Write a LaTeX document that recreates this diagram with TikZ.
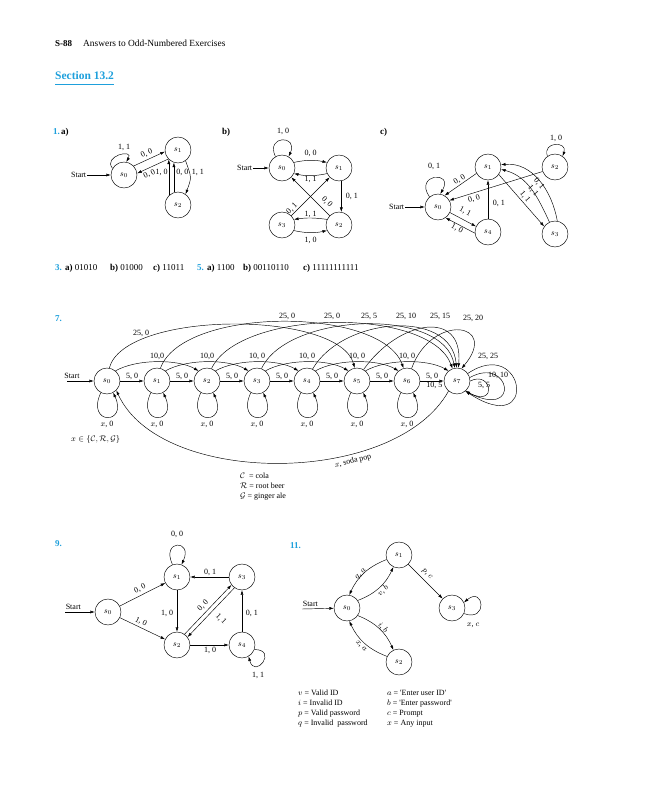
\documentclass[tikz,border=0pt]{standalone}
\usepackage{fontspec}
\setmainfont{Liberation Serif}
\usetikzlibrary{arrows.meta,calc}
\definecolor{cy}{RGB}{30,160,220}
\begin{document}
\begin{tikzpicture}[x=1pt,y=1pt,
  st/.style={circle,draw,line width=0.45pt,minimum size=26pt,inner sep=0pt,font=\fontsize{8.5}{9}\selectfont},
  lb/.style={font=\fontsize{8}{9}\selectfont,inner sep=0.6pt},
  ar/.style={line width=0.45pt,-{Latex[length=4.5pt,width=3pt]}},
  exn/.style={font=\fontsize{9}{10}\selectfont\bfseries,text=cy,anchor=base west,inner sep=0pt},
  exl/.style={font=\fontsize{9}{10}\selectfont\bfseries,anchor=base west,inner sep=0pt},
  txt/.style={font=\fontsize{9}{10}\selectfont,anchor=base west,inner sep=0pt},
  leg/.style={font=\fontsize{8}{9}\selectfont,anchor=base west,inner sep=0pt},
]
\useasboundingbox (0,0) rectangle (648,-800);
\fill[white] (0,0) rectangle (648,-800);

% ---------- header
\node[exl] (h1) at (55,-47) {S-88};
\node[txt,font=\fontsize{9.4}{10}\selectfont] (h2) at (83,-47) {Answers to Odd-Numbered Exercises};
\node[exn,font=\fontsize{11.5}{12}\selectfont\bfseries] (sec) at (55,-80) {Section 13.2};
\draw[cy,line width=0.9pt] ($(sec.base west)+(0,-4)$) -- ($(sec.base east)+(0,-4)$);

% ---------- 1 a)
\node[exn] (e1) at (53,-134) {1.};
\node[exl] (e1a) at (61,-134) {a)};
\node[st] (a0) at (124,-175) {$s_0$};
\node[st] (a1) at (178,-150) {$s_1$};
\node[st] (a2) at (178,-205) {$s_2$};
\node[lb,anchor=east] (as) at (87,-175) {Start};
\draw[ar] (as) -- (a0);
\draw[ar] (a0.150) to[out=130,in=60,distance=16pt] (a0.80);
\node[lb] (la1) at (124,-147) {1, 1};
\draw[ar] (a0.43) -- (a1.187);
\draw[ar] (a1.223) -- (a0.7);
\node[lb,rotate=25] (la2) at (146.8,-153.4) {0, 0};
\node[lb,rotate=25] (la3) at (149.5,-174) {0, 0};
\draw[ar] (a2.134) -- (a1.226);
\draw[ar] (a2.108) -- (a1.252);
\draw[ar] (a1.-55) to[out=-70,in=70,distance=18pt] (a2.55);
\node[lb,anchor=east] (la4) at (168.5,-172) {1, 0};
\node[lb,anchor=west] (la5) at (175.5,-172) {0, 0};
\node[lb,anchor=west] (la6) at (191,-172) {1, 1};

% ---------- 1 b)
\node[exl] (e1b) at (222,-134) {b)};
\node[st] (b0) at (282,-168) {$s_0$};
\node[st] (b1) at (339,-168) {$s_1$};
\node[st] (b2) at (339,-225) {$s_2$};
\node[st] (b3) at (282,-225) {$s_3$};
\node[lb,anchor=east] (bs) at (253,-168) {Start};
\draw[ar] (bs) -- (b0);
\draw[ar] (b0.120) to[out=115,in=65,distance=24pt] (b0.60);
\node[lb] (lb1) at (283,-131) {1, 0};
\draw[ar] (b0.25) to[bend left=12] (b1.155);
\node[lb] (lb2) at (310.5,-153) {0, 0};
\draw[ar] (b1.205) to[bend left=12] (b0.-25);
\node[lb] (lb3) at (310.5,-179.5) {1, 1};
\draw[ar] (b1.-80) -- (b2.80);
\node[lb,anchor=west] (lb4) at (345,-196) {0, 1};
\draw[ar] (b2.155) to[bend right=8] (b3.25);
\node[lb] (lb5) at (310.5,-214.5) {1, 1};
\draw[ar] (b3.-25) to[bend right=12] (b2.205);
\node[lb] (lb6) at (310.5,-240.5) {1, 0};
\draw[ar] (b3.45) -- (b1.225);
\node[lb,rotate=45] (lb7) at (292,-208.5) {0, 1};
\draw[ar] (b2.135) -- (b0.-45);
\node[lb,rotate=-45] (lb8) at (327,-202) {0, 0};

% ---------- 1 c)
\node[exl] (e1c) at (380,-134) {c)};
\node[st] (c0) at (438,-207) {$s_0$};
\node[st] (c1) at (488,-167) {$s_1$};
\node[st] (c2) at (555,-167) {$s_2$};
\node[st] (c3) at (555,-234) {$s_3$};
\node[st] (c4) at (488,-232) {$s_4$};
\node[lb,anchor=east] (cs) at (405,-207) {Start};
\draw[ar] (cs) -- (c0);
\draw[ar] (c0.130) to[out=125,in=60,distance=28pt] (c0.80);
\node[lb] (lc1) at (434,-166) {0, 1};
\draw[ar] (c2.125) to[out=110,in=70,distance=16pt] (c2.55);
\node[lb] (lc2) at (556,-138) {1, 0};
\draw[ar] (c1.209) -- (c0.60);
\node[lb,rotate=31] (lc3) at (459.5,-179.5) {0, 0};
\draw[ar] (c2.200) -- (c0.30);
\node[lb,rotate=17] (lc4) at (474,-199) {0, 0};
\draw[ar] (c0.-25) -- (c4.155);
\node[lb,rotate=-28] (lc5) at (465,-212) {1, 1};
\draw[ar] (c4.185) -- (c0.-55);
\node[lb,rotate=-28] (lc6) at (457,-229) {1, 0};
\draw[ar] (c4) -- (c1);
\node[lb,anchor=west] (lc7) at (492,-203) {0, 1};
\draw[ar] (c1.-35) -- (c3.145);
\draw[ar] (c3.115) to[out=115,in=-15] (c1.-10);
\draw[ar] (c3.80) to[out=100,in=5] (c1.10);
\node[lb,rotate=-50] (lc8) at (539,-184) {0, 1};
\node[lb,rotate=-50] (lc9) at (533,-190.5) {1, 1};
\node[lb,rotate=-50] (lc10) at (525,-197) {1, 1};

% ---------- 3, 5
\node[exn] (e3) at (55,-270) {3.};
\node[txt] (e3a) at (65,-270) {\textbf{a)} 01010};
\node[txt] (e3b) at (110,-270) {\textbf{b)} 01000};
\node[txt] (e3c) at (153,-270) {\textbf{c)} 11011};
\node[exn] (e5) at (197,-270) {5.};
\node[txt] (e5a) at (207,-270) {\textbf{a)} 1100};
\node[txt] (e5b) at (243,-270) {\textbf{b)} 00110110};
\node[txt] (e5c) at (303,-270) {\textbf{c)} 11111111111};

% ---------- 7
\node[exn] (e7) at (55,-321) {7.};
\foreach \i in {0,...,7} { \node[st] (g\i) at (107+50*\i,-381) {$s_{\i}$}; }
\node[lb,anchor=base] (gs) at (72,-378.5) {Start};
\coordinate (gsa) at (67,-381);
\draw[ar] (gsa) -- (g0);
\foreach \i/\j in {0/1,1/2,2/3,3/4,4/5,5/6} {
  \draw[ar] (g\i) -- node[lb,above] (f\i) {5, 0} (g\j);
}
\draw[ar] (g6) -- node[lb,above] (f6) {5, 0} node[lb,below,pos=0.6] (f7) {10, 5} (g7);
\foreach \i/\j/\t in {0/2/{10,0},1/3/{10,0},2/4/{10, 0},3/5/{10, 0},4/6/{10, 0},5/7/{10, 0}} {
  \draw[ar] (g\i.50) to[out=30,in=150,distance=24pt] (g\j.130);
  \node[lb] (ten\i) at (157+50*\i,-356) {\t};
}
\foreach \i in {0,...,6} {
  \draw[ar] (g\i.-118) to[out=-115,in=-65,distance=36pt] (g\i.-62);
  \node[lb] (xo\i) at (107+50*\i,-424) {$x$, 0};
}
\draw[ar] (g0.80) to[out=75,in=105,distance=60pt] (g5.100);
\draw[ar] (g1.75) to[out=70,in=110,distance=66pt] (g6.105);
\draw[ar] (g2.70) to[out=65,in=110,distance=66pt] (g7.110);
\draw[ar] (g3.70) to[out=65,in=100,distance=62pt] (g7.100);
\draw[ar] (g4.65) to[out=60,in=95,distance=60pt] (g7.92);
\draw[ar] (g5.60) to[out=55,in=85,distance=60pt] (g7.84);
\draw[ar] (g6.70) to[out=70,in=50,distance=60pt] (g7.70);
\node[lb] (q0) at (141,-333) {25, 0};
\node[lb] (q1) at (287,-316) {25, 0};
\node[lb] (q2) at (332,-316) {25, 0};
\node[lb] (q3) at (369,-316) {25, 5};
\node[lb] (q4) at (406,-316) {25, 10};
\node[lb] (q5) at (440,-316) {25, 15};
\node[lb] (q6) at (473,-318) {25, 20};
% s7 loops
\draw[ar] (g7.35) .. controls (525,-335) and (540,-440) .. (g7.-50);
\draw[ar] (g7.15) .. controls (510,-355) and (522,-420) .. (g7.-50);
\draw[ar] (g7.0) .. controls (492,-370) and (498,-408) .. (g7.-50);
\node[lb] (r1) at (488,-356) {25, 25};
\node[lb] (r2) at (498,-375.5) {10, 10};
\node[lb] (r3) at (484,-385.5) {5, 5};
% soda pop
\draw[ar] (g7.-130) .. controls (395,-487) and (160,-487) .. (g0.-45);
\node[lb,rotate=14] (sp) at (353,-461) {$x$, soda pop};
\node[leg] (xin) at (71,-441) {$x \in \{\mathcal{C}, \mathcal{R}, \mathcal{G}\}$};
\node[leg] (lg1) at (240,-478) {$\mathcal{C}$\ \ = cola};
\node[leg] (lg2) at (240,-488) {$\mathcal{R}$\ = root beer};
\node[leg] (lg3) at (240,-498) {$\mathcal{G}$\ = ginger ale};

% ---------- 9
\node[exn] (e9) at (55,-546) {9.};
\node[st] (n0) at (108,-612) {$s_0$};
\node[st] (n1) at (177,-577) {$s_1$};
\node[st] (n3) at (242,-577) {$s_3$};
\node[st] (n2) at (177,-645) {$s_2$};
\node[st] (n4) at (242,-645) {$s_4$};
\node[lb,anchor=base west] (ns) at (65,-609) {Start};
\coordinate (nsa) at (65,-612);
\draw[ar] (nsa) -- (n0);
\draw[ar] (n1.110) to[out=115,in=65,distance=28pt] (n1.70);
\node[lb] (m1) at (177,-534) {0, 0};
\draw[ar] (n0) -- (n1);
\node[lb,rotate=27] (m2) at (140,-588.5) {0, 0};
\draw[ar] (n0) -- (n2);
\node[lb,rotate=-26] (m3) at (141,-622) {1, 0};
\draw[ar] (n1) -- (n2);
\node[lb,anchor=east] (m4) at (174,-613) {1, 0};
\draw[ar] (n3) -- (n1);
\node[lb,anchor=south] (m5) at (210,-577) {0, 1};
\draw[ar] (n2) -- (n4);
\node[lb,anchor=north] (m6) at (210,-646) {1, 0};
\draw[ar] (n4) -- (n3);
\node[lb,anchor=west] (m7) at (245,-613) {0, 1};
\draw[ar] (n2.55) -- (n3.217);
\draw[ar] (n3.235) -- (n2.37);
\node[lb,rotate=46] (m8) at (203,-606) {0, 0};
\node[lb,rotate=-45] (m9) at (221,-619) {1, 1};
\draw[ar] (n4.-20) to[out=0,in=-75,distance=24pt] (n4.-60);
\node[lb] (m10) at (258,-675) {1, 1};

% ---------- 11
\node[exn] (e11) at (290,-548) {11.};
\node[st] (k1) at (399,-555) {$s_1$};
\node[st] (k0) at (347,-608) {$s_0$};
\node[st] (k3) at (452,-608) {$s_3$};
\node[st] (k2) at (399,-662) {$s_2$};
\node[lb,anchor=base west] (ks) at (302,-606) {Start};
\coordinate (ksa) at (302,-609);
\draw[ar] (ksa) -- (k0);
\draw[ar] (k0.35) to[bend right=22] (k1.-115);
\draw[ar] (k1.-160) to[bend right=22] (k0.80);
\node[lb,rotate=45] (p1) at (361,-574) {$q$, $a$};
\node[lb,rotate=45] (p2) at (383,-591) {$v$, $b$};
\draw[ar] (k1) -- (k3);
\node[lb,rotate=-45] (p3) at (427,-574) {$p$, $c$};
\draw[ar] (k3.-25) to[out=-20,in=40,distance=26pt] (k3.25);
\node[lb] (p4) at (473,-625) {$x$, $c$};
\draw[ar] (k0.-35) to[bend left=22] (k2.115);
\node[lb,rotate=-45] (p5) at (383,-627.5) {$i$, $b$};
\draw[ar] (k2.155) to[bend left=22] (k0.-80);
\node[lb,rotate=-45] (p6) at (361,-646) {$x$, $a$};
\node[leg] (v1) at (298,-695) {$v$ = Valid ID};
\node[leg] (v2) at (298,-705) {$i$ = Invalid ID};
\node[leg] (v3) at (298,-715) {$p$ = Valid password};
\node[leg] (v4) at (298,-725) {$q$ = Invalid\ \ password};
\node[leg] (w1) at (387,-695) {$a$ = \textquotesingle Enter user ID\textquotesingle};
\node[leg] (w2) at (387,-705) {$b$ = \textquotesingle Enter password\textquotesingle};
\node[leg] (w3) at (387,-715) {$c$ = Prompt};
\node[leg] (w4) at (387,-725) {$x$ = Any input};
\end{tikzpicture}
\end{document}
